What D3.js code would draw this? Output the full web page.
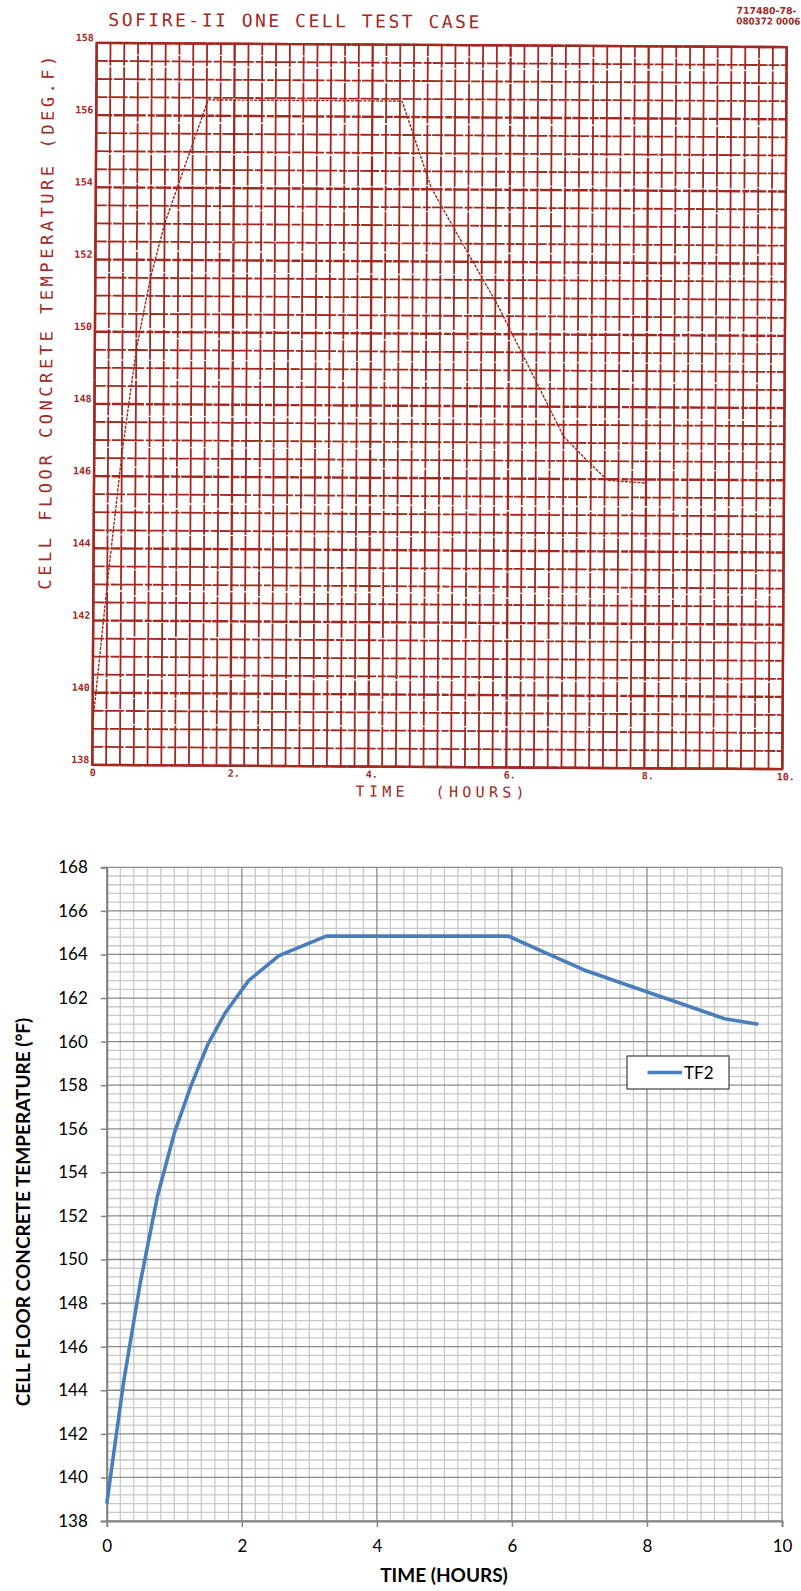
<!DOCTYPE html>
<html>
<head>
<meta charset="utf-8">
<script src="https://cdn.jsdelivr.net/npm/d3@7"></script>
<style>
  body { margin: 0; background: #fff; }
  svg { display: block; }
</style>
</head>
<body>
<svg id="page" width="801" height="1591"></svg>
<script>
// ---- Plotter chart (SOFIRE-II one cell test case) ----
const scanHours = [0, 0.2, 0.4, 0.6, 0.8, 1.0, 1.62, 4.43, 4.86, 5.35, 5.83, 6.28, 6.8, 7.1, 7.44, 8.0];
const scanTemps = [139.1, 143.0, 146.6, 149.5, 151.5, 153.0, 156.44, 156.44, 154.05, 152.4, 150.82, 149.14, 147.18, 146.6, 145.97, 145.9];
const scanXTicks = [0, 2, 4, 6, 8, 10];
const scanXTickLabels = ["0", "2.", "4.", "6.", "8.", "10."];
const scanYTicks = [138, 140, 142, 144, 146, 148, 150, 152, 154, 156, 158];

// ---- Spreadsheet chart (TF2) ----
const tf2Hours = [0, 0.25, 0.5, 0.75, 1.0, 1.25, 1.5, 1.75, 2.1, 2.55, 3.25, 5.95, 6.55, 7.1, 7.75, 8.5, 9.15, 9.65];
const tf2Temps = [138.8, 144.4, 149.0, 152.9, 155.8, 158.0, 159.9, 161.3, 162.8, 163.95, 164.84, 164.84, 164.0, 163.25, 162.55, 161.75, 161.05, 160.8];
const tf2XTicks = [0, 2, 4, 6, 8, 10];
const tf2YTicks = [138, 140, 142, 144, 146, 148, 150, 152, 154, 156, 158, 160, 162, 164, 166, 168];

const svg = d3.select("#page");

/* ================= Plotter chart ================= */
const red = "#a3281f";
const scan = svg.append("g").attr("transform", "rotate(0.35, 439.5, 406)");

const sx = d3.scaleLinear().domain([0, 10]).range([94.5, 784.5]);
const sy = d3.scaleLinear().domain([138, 158]).range([767, 45]);

// grid: 0.2 h verticals, 0.5 degF horizontals
const vLines = d3.range(0, 51).map(i => i * 0.2);
const hLines = d3.range(0, 41).map(i => 138 + i * 0.5);

scan.append("g").selectAll("line").data(vLines).join("line")
  .attr("x1", d => sx(d)).attr("x2", d => sx(d))
  .attr("y1", sy(138)).attr("y2", sy(158))
  .attr("stroke", red)
  .attr("stroke-width", (d, i) => (i % 10 === 0 ? 2.3 : 1.8))
  .attr("stroke-dasharray", (d, i) => (i % 3 === 0 ? "40,1.2,25,1,60,1.5" : "55,1,30,1.4"));

scan.append("g").selectAll("line").data(hLines).join("line")
  .attr("x1", sx(0)).attr("x2", sx(10))
  .attr("y1", d => sy(d)).attr("y2", d => sy(d))
  .attr("stroke", red)
  .attr("stroke-width", (d, i) => (i % 4 === 0 ? 2.4 : 1.8))
  .attr("stroke-dasharray", (d, i) => (i % 2 === 0 ? "16,1.5,9,1,22,2,7,1" : "11,1.2,19,1.8,8,1"));

// border
scan.append("rect")
  .attr("x", sx(0)).attr("y", sy(158))
  .attr("width", sx(10) - sx(0)).attr("height", sy(138) - sy(158))
  .attr("fill", "none").attr("stroke", red).attr("stroke-width", 2.4);

// axes labels
const scanLeft = d3.axisLeft(sy).tickValues(scanYTicks).tickSize(0).tickPadding(3)
  .tickFormat(d3.format("d"));
scan.append("g").attr("transform", `translate(${sx(0)},0)`).call(scanLeft)
  .call(g => g.select(".domain").remove())
  .selectAll("text")
  .attr("dy", "-0.22em")
  .attr("fill", red)
  .attr("font-family", "'DejaVu Sans Mono', monospace")
  .attr("font-weight", "bold")
  .attr("font-size", 10);

const scanBottom = d3.axisBottom(sx).tickValues(scanXTicks).tickSize(0).tickPadding(4)
  .tickFormat((d, i) => scanXTickLabels[i]);
scan.append("g").attr("transform", `translate(0,${sy(138)})`).call(scanBottom)
  .call(g => g.select(".domain").remove())
  .selectAll("text")
  .attr("x", (d, i) => (scanXTickLabels[i].endsWith(".") ? 3 : 0))
  .attr("fill", red)
  .attr("font-family", "'DejaVu Sans Mono', monospace")
  .attr("font-weight", "bold")
  .attr("font-size", 10);

// curve
const scanLine = d3.line().x((d, i) => sx(scanHours[i])).y((d, i) => sy(scanTemps[i]));
scan.append("path")
  .attr("d", scanLine(scanHours))
  .attr("fill", "none")
  .attr("stroke", red)
  .attr("stroke-width", 1.4)
  .attr("stroke-dasharray", "3,1.2");

// titles
const mono = "'DejaVu Sans Mono', monospace";
scan.append("text")
  .attr("x", 106).attr("y", 28)
  .attr("textLength", 371).attr("lengthAdjust", "spacing")
  .attr("font-family", mono).attr("font-size", 18).attr("fill", red)
  .text("SOFIRE-II ONE CELL TEST CASE");

scan.append("text")
  .attr("x", 358).attr("y", 797)
  .attr("textLength", 169).attr("lengthAdjust", "spacing")
  .attr("font-family", mono).attr("font-size", 15).attr("fill", red)
  .attr("xml:space", "preserve")
  .text("TIME  (HOURS)");

scan.append("text")
  .attr("transform", "translate(52,592) rotate(-90)")
  .attr("x", 0).attr("y", 0)
  .attr("textLength", 534).attr("lengthAdjust", "spacing")
  .attr("font-family", mono).attr("font-size", 17).attr("fill", red)
  .text("CELL FLOOR CONCRETE TEMPERATURE (DEG.F)");

const stamp = scan.append("g").attr("fill", red)
  .attr("font-family", "'DejaVu Sans Condensed', 'DejaVu Sans', sans-serif")
  .attr("font-weight", "bold").attr("font-size", 9.5);
stamp.append("text").attr("x", 734).attr("y", 12)
  .attr("textLength", 60).attr("lengthAdjust", "spacingAndGlyphs").text("717480-78-");
stamp.append("text").attr("x", 734).attr("y", 22.5)
  .attr("textLength", 64).attr("lengthAdjust", "spacingAndGlyphs").text("080372 0006");

/* ================= Spreadsheet chart ================= */
const bx = d3.scaleLinear().domain([0, 10]).range([106.8, 782]);
const by = d3.scaleLinear().domain([138, 168]).range([1521, 867.3]);
const chart = svg.append("g");
const font = "Lato, 'Open Sans', sans-serif";

// minor grid: 0.2 h and 0.4 degF
const minorV = d3.range(0, 51).map(i => i * 0.2).filter((d, i) => i % 10 !== 0);
const minorH = d3.range(0, 76).map(i => 138 + i * 0.4).filter((d, i) => i % 5 !== 0);
chart.append("g").selectAll("line").data(minorV).join("line")
  .attr("x1", d => bx(d)).attr("x2", d => bx(d))
  .attr("y1", by(138)).attr("y2", by(168))
  .attr("stroke", "#c9c9c9").attr("stroke-width", 1.3);
chart.append("g").selectAll("line").data(minorH).join("line")
  .attr("x1", bx(0)).attr("x2", bx(10))
  .attr("y1", d => by(d)).attr("y2", d => by(d))
  .attr("stroke", "#c9c9c9").attr("stroke-width", 1.3);

// major grid
chart.append("g").selectAll("line").data(tf2XTicks).join("line")
  .attr("x1", d => bx(d)).attr("x2", d => bx(d))
  .attr("y1", by(138)).attr("y2", by(168))
  .attr("stroke", "#8a8a8a").attr("stroke-width", 1.3);
chart.append("g").selectAll("line").data(tf2YTicks).join("line")
  .attr("x1", bx(0)).attr("x2", bx(10))
  .attr("y1", d => by(d)).attr("y2", d => by(d))
  .attr("stroke", "#8a8a8a").attr("stroke-width", 1.3);

// axes
const styleAxis = g => {
  g.select(".domain").attr("stroke", "#868686").attr("stroke-width", 2);
  g.selectAll(".tick line").attr("stroke", "#868686").attr("stroke-width", 1.5);
  g.selectAll("text").attr("fill", "#000").attr("font-family", font).attr("font-size", 17);
};
chart.append("g").attr("transform", `translate(${bx(0)},0)`)
  .call(d3.axisLeft(by).tickValues(tf2YTicks).tickSizeOuter(0).tickSize(6).tickPadding(13))
  .call(styleAxis);
chart.append("g").attr("transform", `translate(0,${by(138)})`)
  .call(d3.axisBottom(bx).tickValues(tf2XTicks).tickSizeOuter(0).tickSize(6).tickPadding(13))
  .call(styleAxis);

// series
const tf2Line = d3.line().x((d, i) => bx(tf2Hours[i])).y((d, i) => by(tf2Temps[i]));
chart.append("path")
  .attr("d", tf2Line(tf2Hours))
  .attr("fill", "none")
  .attr("stroke", "#4a7ebb")
  .attr("stroke-width", 3.6)
  .attr("stroke-linejoin", "round");

// axis titles
chart.append("text")
  .attr("x", 444).attr("y", 1582)
  .attr("text-anchor", "middle")
  .attr("font-family", font).attr("font-weight", "bold").attr("font-size", 19)
  .text("TIME (HOURS)");
chart.append("text")
  .attr("transform", "translate(30,1212) rotate(-90)")
  .attr("text-anchor", "middle")
  .attr("font-family", font).attr("font-weight", "bold").attr("font-size", 19)
  .text("CELL FLOOR CONCRETE TEMPERATURE (°F)");

// legend
const legend = chart.append("g");
legend.append("rect")
  .attr("x", 627).attr("y", 1056).attr("width", 102).attr("height", 33)
  .attr("fill", "#fff").attr("stroke", "#404040").attr("stroke-width", 1.2);
legend.append("line")
  .attr("x1", 647.5).attr("x2", 682).attr("y1", 1072.5).attr("y2", 1072.5)
  .attr("stroke", "#4a7ebb").attr("stroke-width", 3.6);
legend.append("text")
  .attr("x", 684).attr("y", 1078.5)
  .attr("font-family", font).attr("font-size", 17).attr("fill", "#000")
  .text("TF2");
</script>
</body>
</html>
